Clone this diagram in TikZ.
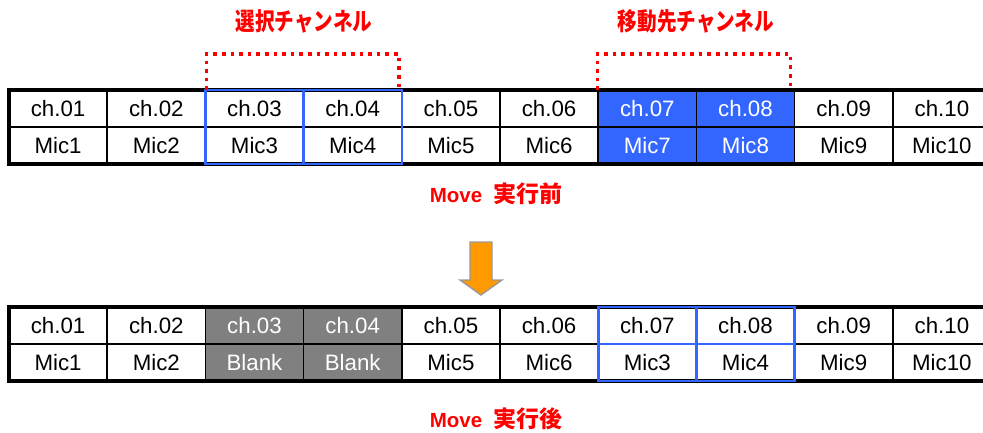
\documentclass[tikz,border=0pt]{standalone}
\usepackage{fontspec}
\setmainfont{Liberation Sans}
\newfontfamily\jp{Noto Sans CJK JP}
\newfontfamily\jpnarrow{Noto Sans CJK JP}[FakeStretch=0.8]
\definecolor{selblue}{HTML}{3366FF}
\definecolor{blankgray}{HTML}{808080}
\definecolor{arroworange}{HTML}{FF9900}
\definecolor{arrowgray}{HTML}{999999}
\tikzset{
  cell/.style={minimum width=98.2pt, minimum height=37pt, inner sep=0pt, outer sep=0pt,
    font=\fontsize{22.3}{22.3}\selectfont},
  bluecell/.style={cell, fill=selblue, text=white},
  graycell/.style={cell, fill=blankgray, text=white},
  gridline/.style={line width=1.6pt, black},
  outerline/.style={line width=3.2pt, black},
  blueline/.style={line width=2.6pt, selblue},
  bracketline/.style={line width=3.4pt, red, dash pattern=on 3.6pt off 5pt},
  redlabel/.style={text=red, font=\bfseries\fontsize{20.5}{20.5}\selectfont},
  cjklabel/.style={text=red, font=\jpnarrow\bfseries\fontsize{24.5}{24.5}\selectfont},
}
\newcommand{\movejp}[1]{Move\hspace{11pt}{\jp\bfseries\fontsize{23}{23}\selectfont #1}}
\begin{document}
\begin{tikzpicture}[x=1pt,y=-1pt]
\useasboundingbox (0,0) rectangle (983,433);
% ---------- table before ----------
\foreach \i/\c in {1/01,2/02,3/03,4/04,5/05,6/06,9/09,10/10}{
  \node[cell] (at\i) at ({9+98.2*(\i-0.5)},108.5) {ch.\c};
  \node[cell] (ab\i) at ({9+98.2*(\i-0.5)},145.5) {Mic\i};
}
\foreach \i/\c in {7/07,8/08}{
  \node[bluecell] (at\i) at ({9+98.2*(\i-0.5)},108.5) {ch.\c};
  \node[bluecell] (ab\i) at ({9+98.2*(\i-0.5)},145.5) {Mic\i};
}
\draw[gridline] (at1.south west) -- (at10.south east);
\foreach \i in {1,...,9}{
  \draw[gridline] (at\i.north east) -- (ab\i.south east);
}
\draw[outerline] (at1.north west) rectangle (ab10.south east);
\draw[blueline] (at3.north west) rectangle (ab4.south east);
\draw[blueline] (at3.north east) -- (ab3.south east);
% brackets and labels
\draw[bracketline] ([xshift=1pt]at3.north west) -- ++(0,-36) -| ([xshift=-3pt]at4.north east);
\draw[bracketline] ([xshift=-1pt]at7.north west) -- ++(0,-36) -| ([xshift=-4pt]at8.north east);
\node[cjklabel] (selLabel) at (304,21) {選択チャンネル};
\node[cjklabel] (dstLabel) at (696,21) {移動先チャンネル};
\node[redlabel] (beforeLabel) at (496,194) {\movejp{実行前}};
% ---------- arrow ----------
\draw[fill=arroworange, draw=arrowgray, line width=1.4pt, line join=miter]
  (470,242) -- (492,242) -- (492,280) -- (502,280) -- (481,295) -- (460,280) -- (470,280) -- cycle;
% ---------- table after ----------
\foreach \i/\c/\m in {1/01/Mic1,2/02/Mic2,5/05/Mic5,6/06/Mic6,7/07/Mic3,8/08/Mic4,9/09/Mic9,10/10/Mic10}{
  \node[cell] (bt\i) at ({9+98.2*(\i-0.5)},325.5) {ch.\c};
  \node[cell] (bb\i) at ({9+98.2*(\i-0.5)},362.5) {\m};
}
\foreach \i/\c in {3/03,4/04}{
  \node[graycell] (bt\i) at ({9+98.2*(\i-0.5)},325.5) {ch.\c};
  \node[graycell] (bb\i) at ({9+98.2*(\i-0.5)},362.5) {Blank};
}
\draw[gridline] (bt1.south west) -- (bt10.south east);
\foreach \i in {1,...,9}{
  \draw[gridline] (bt\i.north east) -- (bb\i.south east);
}
\draw[outerline] (bt1.north west) rectangle (bb10.south east);
\draw[blueline] (bt7.north west) rectangle (bb8.south east);
\draw[blueline] (bt7.north east) -- (bb7.south east);
\draw[blueline] (bt7.south west) -- (bt8.south east);
\node[redlabel] (afterLabel) at (496,419) {\movejp{実行後}};
\end{tikzpicture}
\end{document}
